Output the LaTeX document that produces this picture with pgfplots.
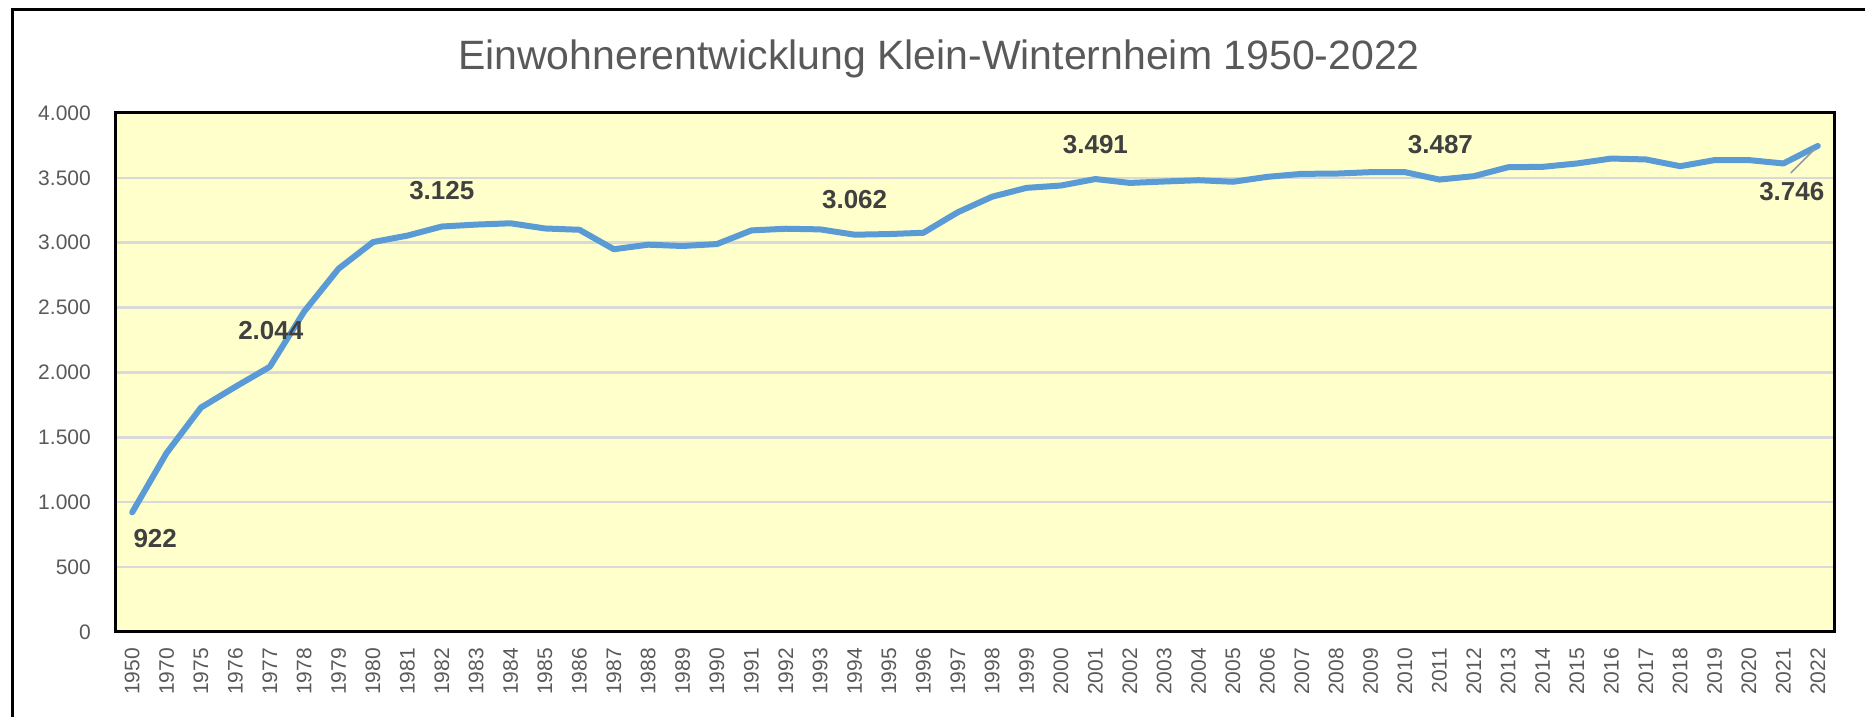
\documentclass[border=0pt]{standalone}
\usepackage{fontspec}
\setmainfont{Liberation Sans}
\usepackage{pgfplots}
\pgfplotsset{compat=1.18}
\usepackage{pgfplotstable}
\definecolor{bgyellow}{HTML}{FFFFCC}
\definecolor{lineblue}{HTML}{5B9BD5}
\definecolor{gridgray}{HTML}{D9D9D9}
\definecolor{ticktext}{HTML}{595959}
\definecolor{labeltext}{HTML}{404040}
\pgfplotstableread{
idx year value
0 1950 922
1 1970 1380
2 1975 1730
3 1976 1890
4 1977 2044
5 1978 2470
6 1979 2800
7 1980 3005
8 1981 3055
9 1982 3125
10 1983 3140
11 1984 3150
12 1985 3110
13 1986 3100
14 1987 2950
15 1988 2985
16 1989 2975
17 1990 2990
18 1991 3095
19 1992 3108
20 1993 3103
21 1994 3062
22 1995 3067
23 1996 3077
24 1997 3235
25 1998 3355
26 1999 3423
27 2000 3441
28 2001 3491
29 2002 3461
30 2003 3472
31 2004 3482
32 2005 3470
33 2006 3508
34 2007 3531
35 2008 3533
36 2009 3544
37 2010 3544
38 2011 3487
39 2012 3513
40 2013 3582
41 2014 3585
42 2015 3611
43 2016 3649
44 2017 3642
45 2018 3590
46 2019 3637
47 2020 3637
48 2021 3611
49 2022 3746
}\popdata
\begin{document}
\begin{tikzpicture}
\path[use as bounding box] (0,0) rectangle (1865pt,717pt);
\draw[black, line width=3pt] (12pt,0) -- (12pt,707.5pt) -- (1870pt,707.5pt);
\node[anchor=base, text=ticktext, font=\fontsize{41}{49}\selectfont, inner sep=0pt] at (939pt,647.7pt) {Einwohnerentwicklung Klein-Winternheim 1950-2022};
\begin{axis}[
  at={(115pt,85pt)}, anchor=south west,
  width=1720pt, height=519pt, scale only axis,
  xmin=-0.5, xmax=49.5, ymin=0, ymax=4000,
  ytick={0,500,...,4000},
  xtick={0,...,49},
  xticklabels={1950,1970,1975,1976,1977,1978,1979,1980,1981,1982,1983,1984,1985,1986,1987,1988,1989,1990,1991,1992,1993,1994,1995,1996,1997,1998,1999,2000,2001,2002,2003,2004,2005,2006,2007,2008,2009,2010,2011,2012,2013,2014,2015,2016,2017,2018,2019,2020,2021,2022},
  x tick label style={yshift=-16pt, rotate=90, anchor=east, inner sep=0pt, text=ticktext, font=\fontsize{21}{21}\selectfont},
  y tick label style={anchor=east, inner sep=0pt, xshift=-24pt, text=ticktext, font=\fontsize{21}{21}\selectfont},
  ymajorgrids,
  grid style={gridgray, line width=2.5pt},
  axis line style={black, line width=3pt},
  major tick length=0pt,
  axis background/.style={fill=bgyellow},
  clip=false,
  /pgf/number format/.cd, 1000 sep={.}, assume math mode=true
]
\addplot[lineblue, line width=6pt, line join=round, line cap=round, mark=none] table[x=idx, y=value] {\popdata};
\begin{scope}[every node/.style={text=labeltext, font=\bfseries\fontsize{26}{26}\selectfont, inner sep=0pt}]
\node[xshift=23pt, yshift=-26pt] at (axis cs:0,922) {922};
\node[xshift=1pt, yshift=36pt] at (axis cs:4,2044) {2.044};
\node[yshift=36pt] at (axis cs:9,3125) {3.125};
\node[yshift=35pt] at (axis cs:21,3062) {3.062};
\node[yshift=34pt] at (axis cs:28,3491) {3.491};
\node[xshift=1pt, yshift=35pt] at (axis cs:38,3487) {3.487};
\node[xshift=-26pt, yshift=-46pt] at (axis cs:49,3746) {3.746};
\end{scope}
\draw[gray!80, line width=1.5pt] ([xshift=-27pt,yshift=-27pt]axis cs:49,3746) -- ([xshift=-3pt,yshift=-3pt]axis cs:49,3746);
\end{axis}
\end{tikzpicture}
\end{document}
